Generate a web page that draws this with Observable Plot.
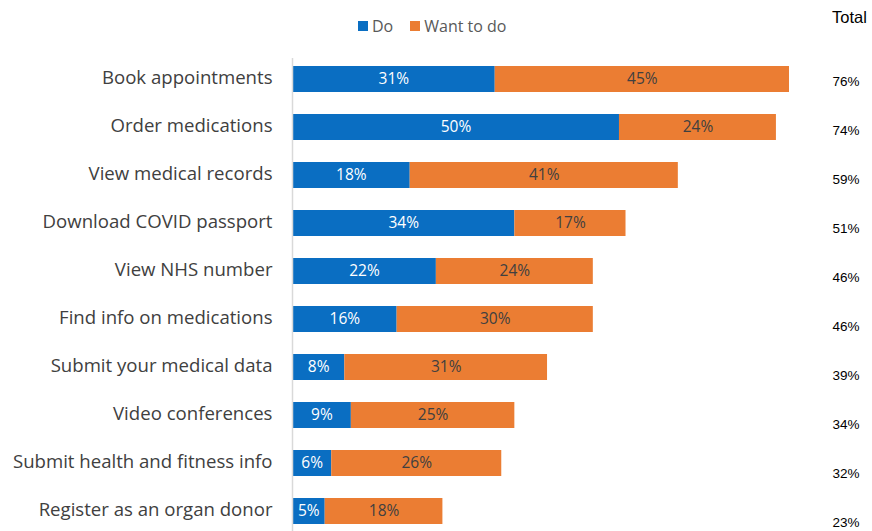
<!DOCTYPE html>
<html>
<head>
<meta charset="utf-8">
<script src="https://cdn.jsdelivr.net/npm/d3@7"></script>
<script src="https://cdn.jsdelivr.net/npm/@observablehq/plot@0.6"></script>
<style>
  html, body { margin: 0; padding: 0; background: #fff; }
  #wrap { position: relative; width: 872px; height: 531px; overflow: hidden; }
  #legend { position: absolute; top: 15px; left: 358px; font-family: "Open Sans", sans-serif; font-size: 16px; color: #595959; display: flex; align-items: center; }
  #legend .sw { display: inline-block; width: 10px; height: 10px; margin-right: 4px; }
  #legend .item { display: inline-flex; align-items: center; margin-right: 17px; }
  #total { position: absolute; top: 8px; left: 832px; font-family: "Liberation Sans", Arial, sans-serif; font-size: 16.5px; color: #000; white-space: nowrap; }
  #chart, #totals { position: absolute; top: 53px; left: 0; }
</style>
</head>
<body>
<div id="wrap">
  <div id="legend"></div>
  <div id="total">Total</div>
  <div id="chart"></div>
  <div id="totals"></div>
</div>
<script>
const categories = [
  "Book appointments",
  "Order medications",
  "View medical records",
  "Download COVID passport",
  "View NHS number",
  "Find info on medications",
  "Submit your medical data",
  "Video conferences",
  "Submit health and fitness info",
  "Register as an organ donor"
];
const doValues = [31, 50, 18, 34, 22, 16, 8, 9, 6, 5];
const wantValues = [45, 24, 41, 17, 24, 30, 31, 25, 26, 18];
const totals = [76, 74, 59, 51, 46, 46, 39, 34, 32, 23];
const seriesNames = ["Do", "Want to do"];
const seriesColors = ["#0A6EC2", "#EB7D33"];

const rows = [];
categories.forEach((c, i) => {
  rows.push({cat: c, series: "Do", value: doValues[i]});
  rows.push({cat: c, series: "Want to do", value: wantValues[i]});
});
const totalRows = categories.map((c, i) => ({cat: c, total: totals[i]}));

const legend = document.getElementById("legend");
seriesNames.forEach((s, i) => {
  const item = document.createElement("span");
  item.className = "item";
  item.innerHTML = `<span class="sw" style="background:${seriesColors[i]}"></span>${s}`;
  legend.appendChild(item);
});

const chart = Plot.plot({
  width: 872,
  height: 479,
  marginLeft: 292,
  marginRight: 83,
  marginTop: 5,
  marginBottom: 0,
  x: {domain: [0, 76], axis: null},
  y: {domain: categories, axis: null, paddingInner: 0.46, paddingOuter: 0.15},
  color: {domain: seriesNames, range: seriesColors},
  style: {fontFamily: "'Open Sans', sans-serif", background: "#fff"},
  marks: [
    Plot.barX(rows, Plot.stackX({x: "value", y: "cat", fill: "series", order: seriesNames})),
    Plot.text(rows, Plot.stackX({
      x: "value", y: "cat", z: "series", order: seriesNames,
      text: d => d.value + "%",
      fill: d => d.series === "Do" ? "#ffffff" : "#404040",
      fontSize: 15.5, fontWeight: 500
    })),
    Plot.ruleX([0], {stroke: "#d9d9d9", strokeWidth: 1.5}),
    Plot.text(categories, {
      y: d => d, text: d => d, frameAnchor: "left", dx: -20, textAnchor: "end",
      fontSize: 18.6, fill: "#404040", dy: -1
    })
  ]
});
document.getElementById("chart").appendChild(chart);

const totalsPlot = Plot.plot({
  width: 872,
  height: 478,
  marginLeft: 832,
  marginRight: 0,
  marginTop: 26,
  marginBottom: 8,
  x: {domain: [0, 1], axis: null},
  y: {type: "point", domain: categories, axis: null, padding: 0},
  style: {fontFamily: "'Liberation Sans', Arial, sans-serif", background: "transparent"},
  marks: [
    Plot.text(totalRows, {
      y: "cat", text: d => d.total + "%", frameAnchor: "left", textAnchor: "start",
      fontSize: 13.5, fill: "#000"
    })
  ]
});
document.getElementById("totals").appendChild(totalsPlot);
</script>
</body>
</html>
